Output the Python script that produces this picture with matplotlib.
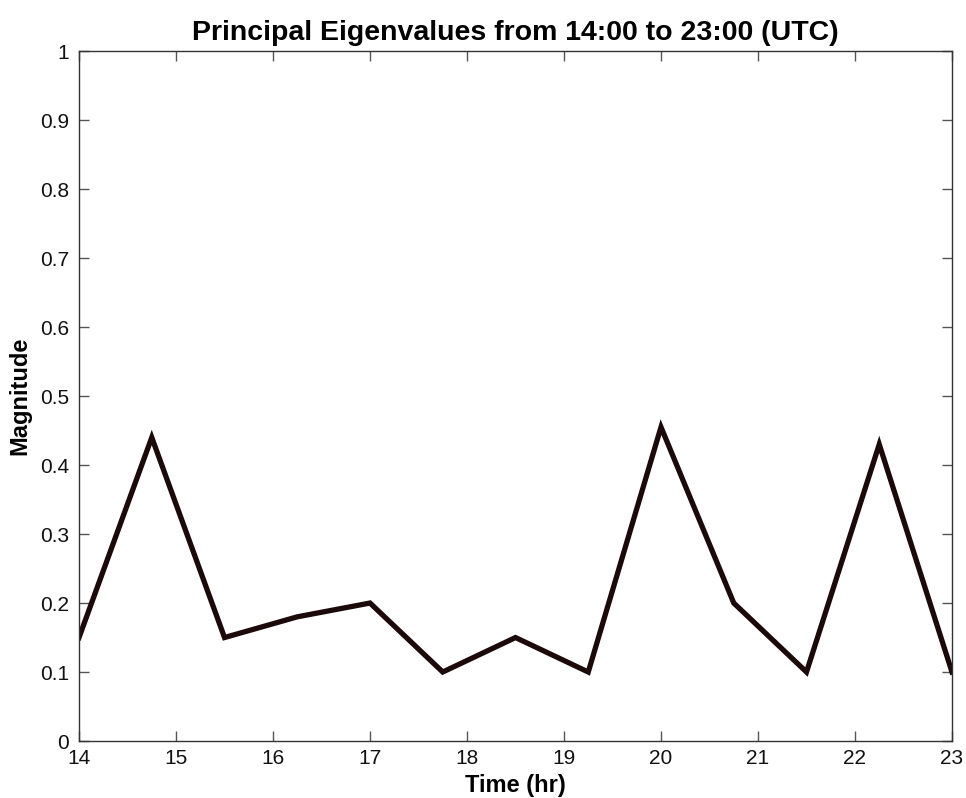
import numpy as np
import matplotlib.pyplot as plt

plt.rcParams['font.family'] = ['Liberation Sans', 'DejaVu Sans']

# principal eigenvalue sampled every 45 minutes
hours = [14, 14.75, 15.5, 16.25, 17, 17.75, 18.5, 19.25, 20, 20.75, 21.5, 22.25, 23]
magnitude = [0.15, 0.44, 0.15, 0.18, 0.20, 0.10, 0.15, 0.10, 0.455, 0.20, 0.10, 0.43, 0.10]

fig = plt.figure(figsize=(9.66, 7.98), dpi=100)
ax = fig.add_axes([0.0818, 0.0714, 0.9037, 0.8646])

ax.plot(hours, magnitude, color='#1c0a0a', lw=3.8, solid_joinstyle='miter')

ax.set_xlim(14, 23)
ax.set_ylim(0, 1)
ax.set_xticks(np.arange(14, 24, 1))
ax.set_yticks(np.arange(0, 1.01, 0.1))
ax.set_yticklabels(['0', '0.1', '0.2', '0.3', '0.4', '0.5', '0.6', '0.7', '0.8', '0.9', '1'])
ax.tick_params(direction='in', length=7, width=1, color='#555555',
               top=True, right=True, labelsize=15, labelcolor='#111111')
ax.tick_params(axis='x', pad=6)
ax.tick_params(axis='y', pad=7)
for s in ax.spines.values():
    s.set_color('#333333')
    s.set_linewidth(1)

ax.set_title('Principal Eigenvalues from 14:00 to 23:00 (UTC)',
             fontsize=20.5, fontweight='bold', pad=8)
ax.set_xlabel('Time (hr)', fontsize=17, fontweight='bold', labelpad=4)
ax.set_ylabel('Magnitude', fontsize=17, fontweight='bold', labelpad=6)

fig.savefig('out.png', dpi=100)
